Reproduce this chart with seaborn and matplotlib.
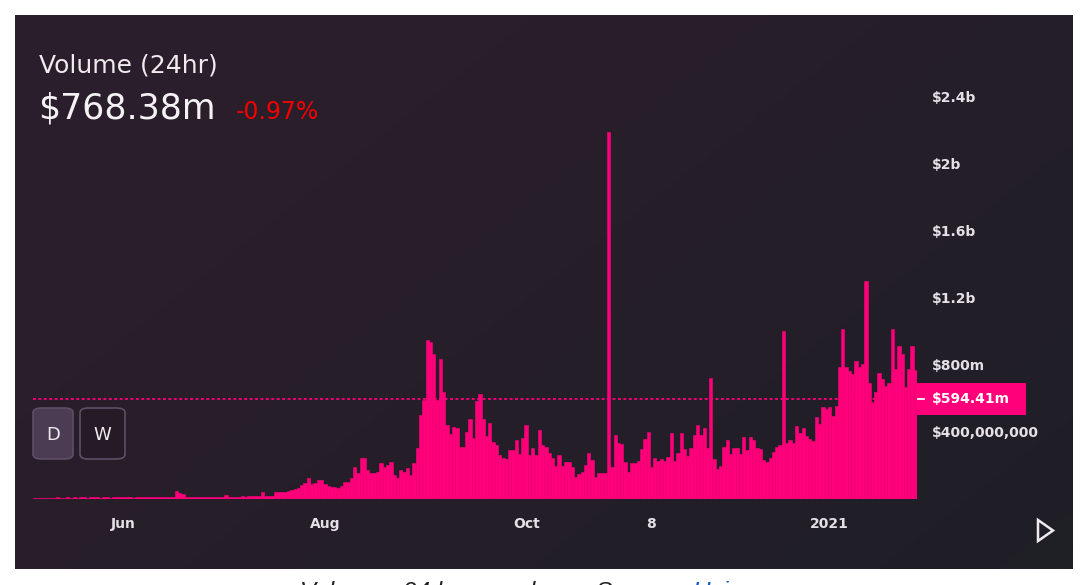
import numpy as np
import pandas as pd
import matplotlib
matplotlib.use("Agg")
import matplotlib.pyplot as plt
from matplotlib.patches import Rectangle, FancyBboxPatch, Polygon
from matplotlib.colors import LinearSegmentedColormap
import matplotlib.transforms as mtransforms
import seaborn as sns

# daily volume in millions of USD (5 May 2020 - 27 Jan 2021)
vol_may = [6, 6, 7, 7, 6, 7, 7, 8, 7, 7, 8, 7, 8, 7, 8, 8, 7, 8, 8, 8, 7, 8, 8, 7, 8, 8, 8]
vol_jun = [8, 8, 8, 7, 8, 8, 8, 9, 8, 8, 9, 8, 8, 9, 9, 9, 48, 33, 31,
           12, 11, 12, 13, 12, 11, 12, 12, 13, 12, 12]
vol_jul = [12, 20, 12, 13, 12, 13, 14, 13, 18, 17, 18, 19, 40, 18, 19, 18, 41, 42, 43, 42,
           44, 52, 60, 63, 82, 92, 122, 86, 96, 110, 113]
vol_aug = [88, 76, 72, 72, 62, 76, 102, 102, 122, 192, 152, 242, 242, 172, 152, 152, 162,
           212, 192, 202, 222, 142, 122, 172, 162, 182, 141, 211, 301, 500, 589]
vol_sep = [951, 937, 864, 589, 832, 639, 440, 384, 430, 420, 310, 310, 400, 474, 360, 583,
           623, 474, 374, 450, 340, 321, 261, 245, 235, 291, 291, 350, 267, 360]
vol_oct = [440, 261, 301, 261, 410, 321, 310, 271, 241, 195, 261, 195, 221, 221, 189, 131,
           147, 161, 201, 271, 231, 131, 151, 151, 151, 2190, 189, 380, 330, 325, 221]
vol_nov = [161, 211, 211, 225, 295, 355, 400, 189, 241, 225, 235, 225, 251, 390, 225, 271,
           390, 295, 255, 301, 380, 440, 380, 424, 305, 719, 235, 175, 195, 310]
vol_dec = [350, 265, 301, 301, 265, 370, 291, 370, 350, 301, 297, 231, 221, 241, 281, 310,
           320, 1000, 331, 350, 335, 434, 394, 420, 374, 354, 347, 490, 446, 549, 533]
vol_jan = [545, 494, 553, 788, 1011, 788, 764, 745, 824, 788, 802, 1301, 693, 579, 638, 752,
           713, 673, 689, 1011, 775, 912, 862, 665, 775, 912, 768]

start_date = "2020-05-05"
tick_dates = ["2020-06-01", "2020-08-01", "2020-10-01", "2020-11-08", "2021-01-01"]
tick_labels = ["Jun", "Aug", "Oct", "8", "2021"]
y_ticks = [400e6, 800e6, 1.2e9, 1.6e9, 2e9, 2.4e9]
y_labels = ["$400,000,000", "$800m", "$1.2b", "$1.6b", "$2b", "$2.4b"]
headline = "$768.38m"
change = "-0.97%"
marker_value = 594.41e6
marker_label = "$594.41m"

volume = np.array(vol_may + vol_jun + vol_jul + vol_aug + vol_sep + vol_oct + vol_nov
                  + vol_dec + vol_jan) * 1e6
dates = pd.date_range(start_date, periods=len(volume))
df = pd.DataFrame({"day": np.arange(len(volume)), "volume": volume})

PINK = "#ff007a"
TXT = "#e4e0e6"
W, H = 1082, 585


def fx(px):
    return px / W


def fy(py):
    return 1 - py / H


fig = plt.figure(figsize=(W / 100, H / 100), dpi=100, facecolor="white")

# dark panel with a soft diagonal gradient
bg = fig.add_axes([fx(15), fy(569), fx(1073) - fx(15), fy(15) - fy(569)])
gx, gy = np.meshgrid(np.linspace(0, 1, 300), np.linspace(0, 1, 200))
grad = np.clip(gx * 0.75 + gy * 0.5 - 0.2, 0, 1)
cmap = LinearSegmentedColormap.from_list("panel", ["#2b1e2c", "#1f1f26"])
bg.imshow(grad, cmap=cmap, aspect="auto", extent=[0, 1, 0, 1], origin="upper")
bg.set_axis_off()

ax = fig.add_axes([fx(33), fy(498.7), fx(917) - fx(33), fy(97) - fy(498.7)])
ax.set_facecolor("none")
sns.barplot(data=df, x="day", y="volume", color=PINK, width=1.0, saturation=1,
            errorbar=None, edgecolor=PINK, linewidth=0.4, ax=ax)
ax.set_xlim(-0.5, len(volume) - 0.5)
ax.set_ylim(0, 2.4e9)
for s in ax.spines.values():
    s.set_visible(False)
ax.grid(False)
ax.set_xlabel("")
ax.set_ylabel("")

tick_pos = [int(np.where(dates == pd.Timestamp(d))[0][0]) for d in tick_dates]
ax.set_xticks(tick_pos)
ax.set_xticklabels(tick_labels)
ax.yaxis.tick_right()
ax.set_yticks(y_ticks)
ax.set_yticklabels(y_labels)
ax.tick_params(axis="both", length=0, colors=TXT, labelsize=10)
ax.tick_params(axis="x", pad=13)
ax.tick_params(axis="y", pad=11)
for lab in ax.get_xticklabels() + ax.get_yticklabels():
    lab.set_fontweight("bold")

# hover line and price tag
ax.axhline(marker_value, color=PINK, lw=1.3, ls=(0, (1.6, 1.4)), zorder=0)
px_val = 2.4e9 / (498.7 - 97)
trans = mtransforms.blended_transform_factory(fig.transFigure, ax.transData)
ax.add_patch(Rectangle((fx(917), marker_value - 16 * px_val), fx(1026) - fx(917), 32 * px_val,
                       transform=trans, facecolor=PINK, edgecolor="none", clip_on=False))
ax.plot([fx(918), fx(924)], [marker_value, marker_value], transform=trans, color="white",
        lw=1.3, clip_on=False)
ax.text(fx(932), marker_value, marker_label, transform=trans, color="white", fontsize=10,
        fontweight="bold", va="center", ha="left")

# header
fig.text(fx(39), fy(65), "Volume (24hr)", color="#eeeaee", fontsize=18, va="center")
fig.text(fx(38), fy(109), headline, color="#f4f2f4", fontsize=25, va="center")
fig.text(fx(236), fy(112), change, color="#f00000", fontsize=17, va="center")

# D / W buttons
for x0, x1, face, edge, lab in [(33, 73, "#4b3c54", "#5e4e66", "D"),
                                (80, 125, "#241b26", "#5e4e66", "W")]:
    fig.patches.append(FancyBboxPatch((fx(x0), fy(459)), fx(x1) - fx(x0), fy(408) - fy(459),
                                      boxstyle="round,pad=0,rounding_size=0.008",
                                      transform=fig.transFigure, facecolor=face,
                                      edgecolor=edge, lw=1.2))
    fig.text(fx((x0 + x1) / 2), fy(435), lab, color="#eeeaee", fontsize=13,
             ha="center", va="center")

# play triangle
fig.patches.append(Polygon([[fx(1038), fy(520)], [fx(1038), fy(541)], [fx(1053), fy(530.5)]],
                           closed=True, transform=fig.transFigure, facecolor="none",
                           edgecolor="#eeeaee", lw=1.8))

# caption below the panel (cut by the image edge, as in the source)
fig.text(fx(300), fy(599), "Volume - 24 hours volume. Source: ", color="#222222",
         fontsize=17.5, style="italic", family="Liberation Sans", va="baseline")
fig.text(fx(692), fy(599), "Uniswap", color="#1155cc", fontsize=17.5, style="italic",
         family="Liberation Sans", va="baseline")

fig.savefig("out.png", dpi=100, facecolor="white")
